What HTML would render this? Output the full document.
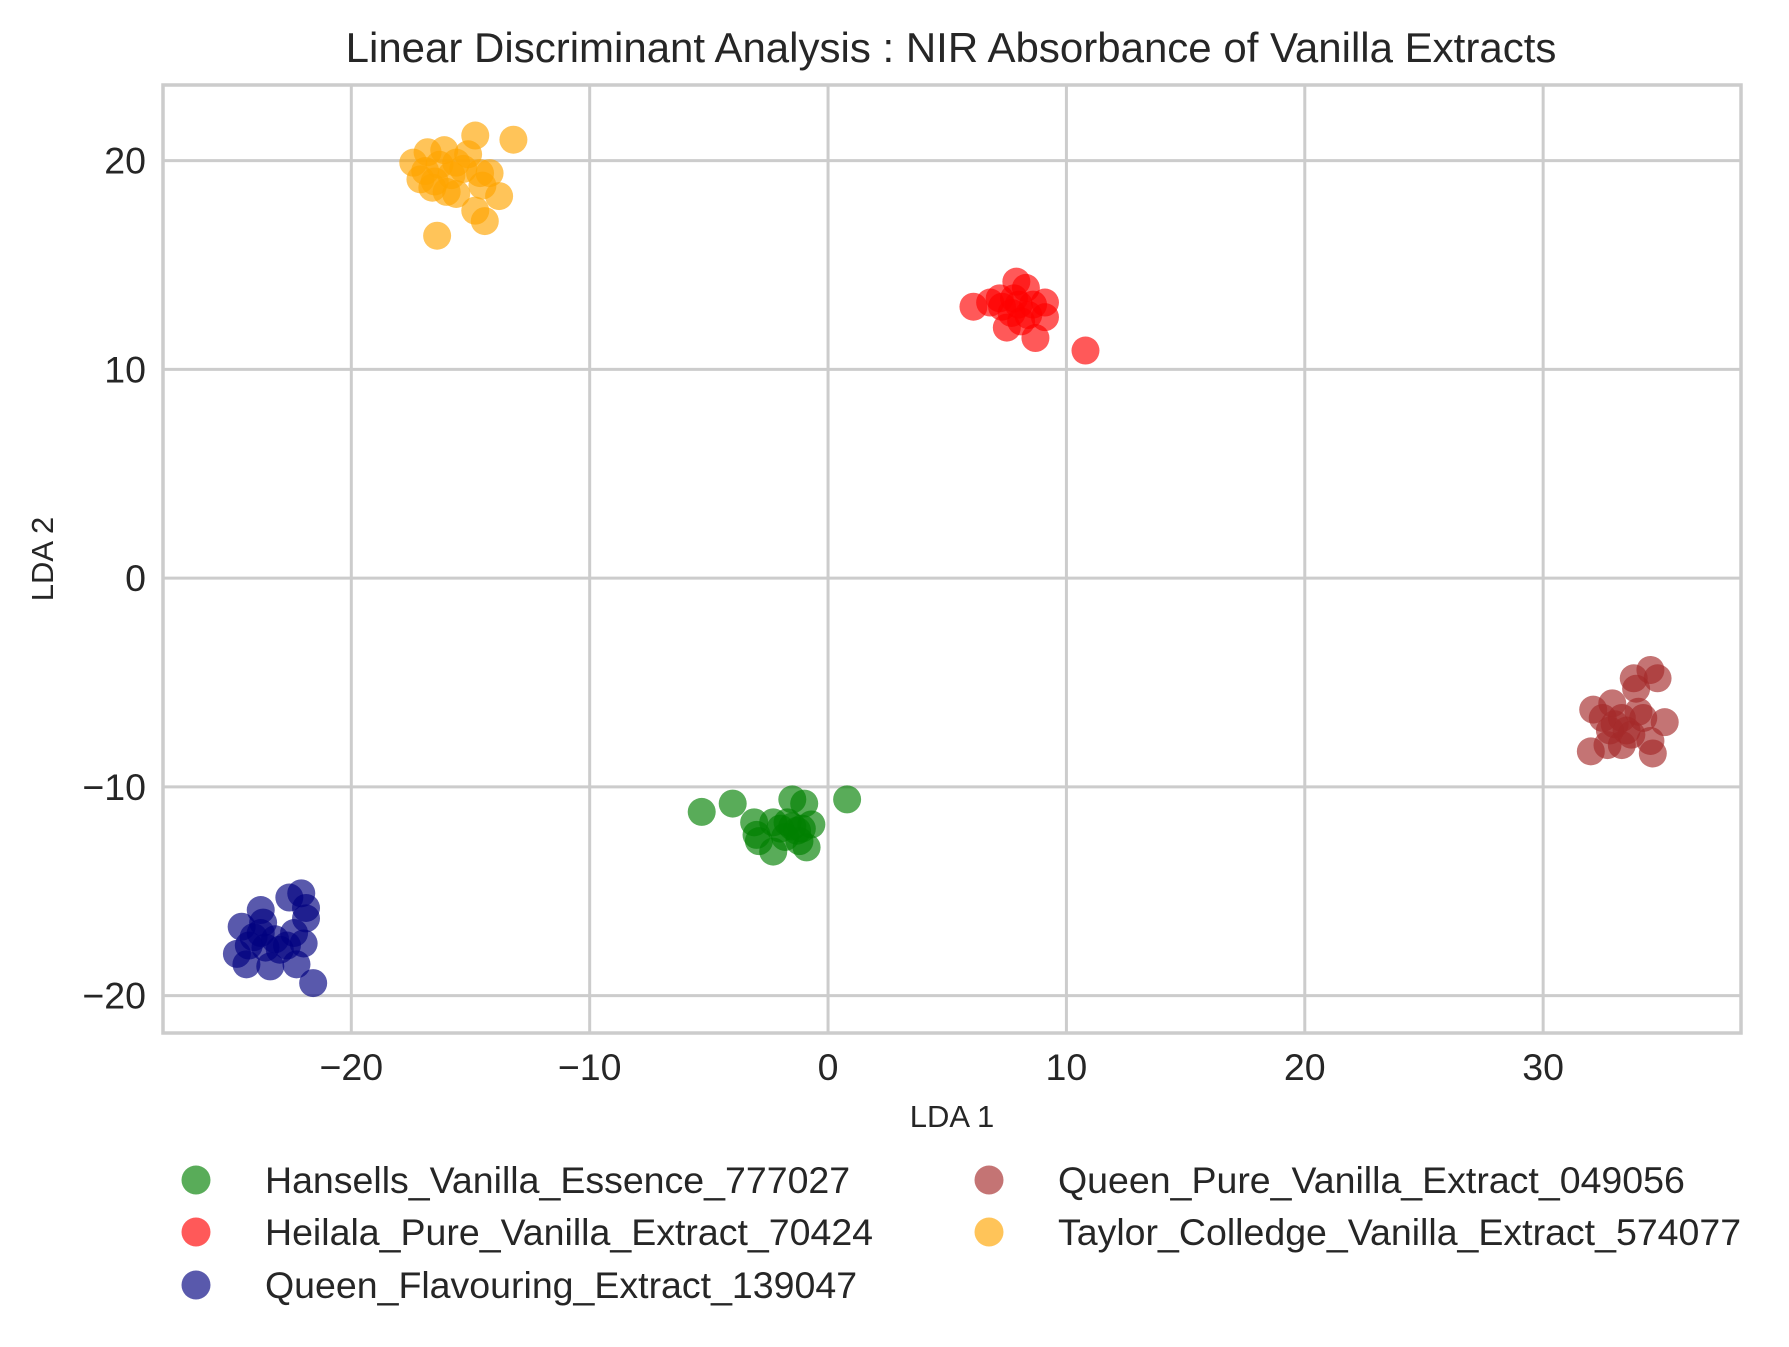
<!DOCTYPE html>
<html><head><meta charset="utf-8"><style>
html,body{margin:0;padding:0;background:#fff;}
svg{display:block;font-family:"Liberation Sans",Arial,sans-serif;}
</style></head><body>
<svg id="chart" width="1789" height="1347" viewBox="0 0 1789 1347">
<rect width="1789" height="1347" fill="#fff"/>
<text x="951" y="62" font-size="42" fill="#262626" text-anchor="middle">Linear Discriminant Analysis : NIR Absorbance of Vanilla Extracts</text>
<g id="grid"></g>
<g id="points"></g>
<rect x="163" y="85" width="1578" height="948" fill="none" stroke="#cccccc" stroke-width="3.5"/>
<g id="ticks"></g>
<text x="952" y="1127" font-size="31" fill="#262626" text-anchor="middle">LDA 1</text>
<text x="0" y="0" font-size="31" fill="#262626" text-anchor="middle" transform="translate(53,559) rotate(-90)">LDA 2</text>
<g id="legend"></g>
</svg>
<script>
const xTicks = [-20, -10, 0, 10, 20, 30];
const yTicks = [-20, -10, 0, 10, 20];
const seriesNames = ["Hansells_Vanilla_Essence_777027","Heilala_Pure_Vanilla_Extract_70424","Queen_Flavouring_Extract_139047","Queen_Pure_Vanilla_Extract_049056","Taylor_Colledge_Vanilla_Extract_574077"];
const seriesColors = ["green","red","navy","brown","orange"];
const greenX = [-5.3,-4.0,-1.5,-1.0,0.8,-3.1,-3.0,-2.9,-2.3,-2.0,-1.7,-1.3,-1.2,-0.7,-0.9,-2.3,-1.8,-1.5,-1.1];
const greenY = [-11.2,-10.8,-10.6,-10.8,-10.6,-11.7,-12.3,-12.6,-11.7,-12.0,-11.7,-12.1,-12.6,-11.8,-12.9,-13.1,-12.4,-11.9,-12.0];
const redX = [6.1,6.8,7.2,7.9,8.3,9.1,9.1,8.7,7.5,10.8,7.7,8.0,8.4,7.3,8.1,8.6,7.8];
const redY = [13.0,13.2,13.4,14.2,13.9,13.2,12.5,11.5,12.0,10.9,12.7,13.1,12.6,13.0,12.3,13.1,13.4];
const navyX = [-22.1,-22.6,-21.9,-21.9,-22.0,-23.8,-23.7,-24.6,-24.8,-24.4,-23.4,-22.3,-21.6,-24.1,-23.6,-23.2,-22.7,-22.4,-24.3,-23.8,-23.0];
const navyY = [-15.1,-15.3,-15.8,-16.3,-17.5,-15.9,-16.5,-16.7,-18.0,-18.5,-18.6,-18.5,-19.4,-17.2,-17.7,-17.3,-17.6,-17.0,-17.6,-17.0,-17.8];
const brownX = [34.5,34.8,33.8,33.9,32.1,32.9,32.0,32.7,33.3,34.6,35.1,34.2,33.5,33.0,33.7,32.5,34.0,33.3,34.5,32.8];
const brownY = [-4.4,-4.8,-4.8,-5.3,-6.3,-6.0,-8.3,-8.0,-8.0,-8.4,-6.9,-6.7,-7.3,-7.0,-7.5,-6.7,-6.4,-6.7,-7.8,-7.3];
const orangeX = [-14.8,-13.2,-16.4,-14.4,-13.8,-14.8,-14.2,-17.1,-16.8,-16.1,-15.1,-16.9,-16.5,-16.3,-15.8,-15.6,-15.3,-14.5,-17.4,-16.6,-15.6,-14.6,-16.0];
const orangeY = [21.2,21.0,16.4,17.1,18.3,17.6,19.4,19.1,20.4,20.5,20.3,19.5,19.0,19.8,19.3,18.4,19.6,18.8,19.9,18.7,19.9,19.4,18.5];

const NS = "http://www.w3.org/2000/svg";
const X0 = 163, X1 = 1741, Y0 = 85, Y1 = 1033;
const xMin = -27.9, xMax = 38.3, yMin = -21.79, yMax = 23.62;
function sx(v){ return X0 + (v - xMin) / (xMax - xMin) * (X1 - X0); }
function sy(v){ return Y1 - (v - yMin) / (yMax - yMin) * (Y1 - Y0); }
function mk(tag, attrs){ const e = document.createElementNS(NS, tag); for (const k in attrs) e.setAttribute(k, attrs[k]); return e; }
const fmt = v => v < 0 ? "\u2212" + Math.abs(v) : String(v);

const grid = document.getElementById("grid");
const ticks = document.getElementById("ticks");
xTicks.forEach(t => {
  const l = mk("line", {x1: sx(t), x2: sx(t), y1: Y0, y2: Y1, stroke: "#cccccc", "stroke-width": 3});
  
  
  grid.appendChild(l);
  const tx = mk("text", {x: sx(t), y: 1080, "font-size": 37.5, fill: "#262626", "text-anchor": "middle"});
  tx.textContent = fmt(t);
  
  
  ticks.appendChild(tx);
});
yTicks.forEach(t => {
  const l = mk("line", {x1: X0, x2: X1, y1: sy(t), y2: sy(t), stroke: "#cccccc", "stroke-width": 3});
  
  
  grid.appendChild(l);
  const tx = mk("text", {x: 146, y: sy(t) + 13, "font-size": 37.5, fill: "#262626", "text-anchor": "end"});
  tx.textContent = fmt(t);
  
  
  ticks.appendChild(tx);
});

const allX = [greenX, redX, navyX, brownX, orangeX];
const allY = [greenY, redY, navyY, brownY, orangeY];
const pts = document.getElementById("points");
allX.forEach((xs, s) => {
  const g = mk("g", {});
  
  
  xs.forEach((v, i) => {
    const c = mk("circle", {cx: sx(v), cy: sy(allY[s][i]), r: 14, fill: seriesColors[s], "fill-opacity": 0.65});
    
    
    g.appendChild(c);
  });
  pts.appendChild(g);
});

const leg = document.getElementById("legend");
const legPos = [[196,1180],[196,1232],[196,1285],[989,1180],[989,1232]];
seriesNames.forEach((n, i) => {
  const [x, y] = legPos[i];
  const c = mk("circle", {cx: x, cy: y, r: 14.5, fill: seriesColors[i], "fill-opacity": 0.65});
  
  
  leg.appendChild(c);
  const t = mk("text", {x: x + 69, y: y + 13, "font-size": 37.5, fill: "#262626"});
  t.textContent = n;
  
  
  leg.appendChild(t);
});
</script>
</body></html>
